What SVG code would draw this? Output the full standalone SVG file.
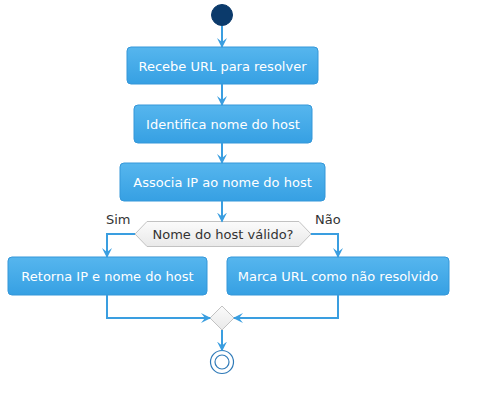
<svg xmlns="http://www.w3.org/2000/svg" width="498" height="403" viewBox="0 0 498 403">
<defs>
<linearGradient id="g" x1="0" y1="0" x2="0" y2="1"><stop offset="0" stop-color="#56b6ee"/><stop offset="1" stop-color="#36a0e3"/></linearGradient>
<linearGradient id="gd" x1="0" y1="0" x2="0" y2="1"><stop offset="0" stop-color="#fbfbfb"/><stop offset="1" stop-color="#e9e9e9"/></linearGradient>
<marker id="a" markerWidth="10" markerHeight="10" refX="9" refY="5" orient="auto" markerUnits="userSpaceOnUse"><path d="M0,0 L10,5 L0,10 L4,5 Z" fill="#3a9ee0"/></marker>
</defs>
<style>
.box{fill:url(#g);stroke:#3597d9;stroke-width:1}
.t{font-family:"DejaVu Sans",Verdana,sans-serif;font-size:13px;fill:#ffffff;text-anchor:middle}
.d{font-family:"DejaVu Sans",Verdana,sans-serif;font-size:13px;fill:#333333;text-anchor:middle}
.c{fill:none;stroke:#3a9ee0;stroke-width:2;marker-end:url(#a)}
</style>
<rect width="498" height="403" fill="#ffffff"/>
<g id="start"><circle cx="222" cy="15" r="10.5" fill="#0b3a6b" stroke="#0b3a6b"/></g>
<g id="n1"><rect class="box" x="127" y="47" width="191" height="37" rx="4"/><text class="t" x="222.5" y="70.5">Recebe URL para resolver</text></g>
<g id="n2"><rect class="box" x="134" y="105" width="178" height="38" rx="4"/><text class="t" x="223" y="128.5">Identifica nome do host</text></g>
<g id="n3"><rect class="box" x="120" y="163" width="205" height="38" rx="4"/><text class="t" x="222.5" y="186.5">Associa IP ao nome do host</text></g>
<g id="dec"><polygon points="135,234 147,221.5 299,221.5 311,234 299,246.5 147,246.5" fill="url(#gd)" stroke="#c2c2c2"/><text class="d" x="223" y="238.5">Nome do host válido?</text></g>
<g id="n4"><rect class="box" x="8" y="257" width="199" height="38" rx="4"/><text class="t" x="107.5" y="280.5">Retorna IP e nome do host</text></g>
<g id="n5"><rect class="box" x="227" y="257" width="222" height="38" rx="4"/><text class="t" x="338" y="280.5">Marca URL como não resolvido</text></g>
<g id="merge"><polygon points="222,306 234,318 222,330 210,318" fill="url(#gd)" stroke="#c2c2c2"/></g>
<g id="end"><circle cx="222" cy="362" r="11.5" fill="#ffffff" stroke="#2f7ab8" stroke-width="1.2"/><circle cx="222" cy="362" r="7" fill="none" stroke="#2f7ab8" stroke-width="1.2"/></g>
<g id="connectors">
<path class="c" d="M222,26 V47"/>
<path class="c" d="M222,84 V105"/>
<path class="c" d="M222,143 V163"/>
<path class="c" d="M222,201 V221.5"/>
<path class="c" d="M135,234 H107 V257"/>
<path class="c" d="M311,234 H338 V257"/>
<path class="c" d="M107,295 V318 H210"/>
<path class="c" d="M338,295 V318 H234"/>
<path class="c" d="M222,330 V350.5"/>
<text x="106" y="224" font-family="DejaVu Sans,Verdana,sans-serif" font-size="13" fill="#333333">Sim</text>
<text x="315" y="224" font-family="DejaVu Sans,Verdana,sans-serif" font-size="13" fill="#333333">Não</text>
</g>
</svg>
